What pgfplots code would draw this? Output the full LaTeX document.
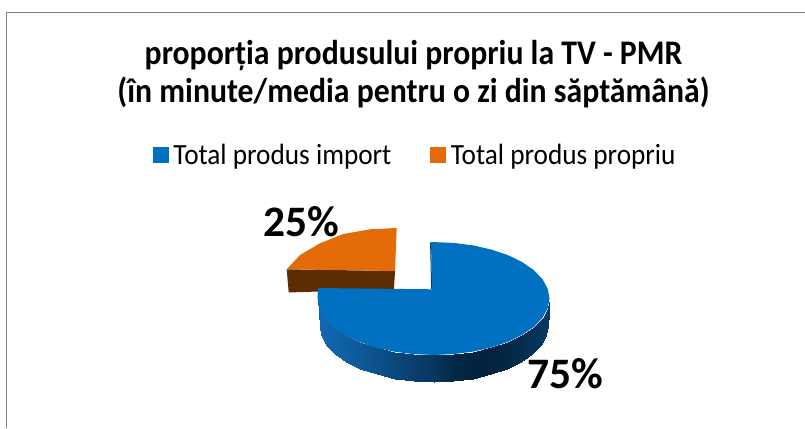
\documentclass[border=0pt]{standalone}
\usepackage{pgfplots}
\pgfplotsset{compat=1.18}
\usepackage{fontspec}
\setmainfont{Carlito}
\newfontfamily\titlefont[FakeStretch=0.92]{Carlito}
\newfontfamily\legendfont[FakeStretch=0.93]{Carlito}
\definecolor{blueT}{HTML}{0070C0}
\definecolor{orangeT}{HTML}{E36C09}
\definecolor{brownS}{HTML}{5A2D03}
\definecolor{frameC}{HTML}{808080}
\definecolor{blueEdge}{HTML}{053A66}
\pgfplotsset{colormap={side}{rgb255(0)=(16,104,176) rgb255(1)=(4,34,61)}}
\begin{document}
\begin{tikzpicture}
\useasboundingbox (0,0) rectangle (805pt,428pt);
\begin{axis}[
  at={(0,0)}, anchor=south west,
  scale only axis, width=805pt, height=428pt,
  xmin=0, xmax=805, ymin=0, ymax=428, y dir=reverse,
  axis lines=none, ticks=none, clip=false,
  colormap name=side,
  point meta min=0, point meta max=1,
  title={proporția produsului propriu la TV - PMR\\(în minute/media pentru o zi din săptămână)},
  title style={at={(axis cs:413.5,80)}, anchor=center, align=center,
    font=\fontsize{34.5}{38}\titlefont\bfseries},
  legend columns=2,
  legend style={at={(axis cs:153,155)}, anchor=west, draw=none, fill=none,
    font=\fontsize{29.3}{30}\legendfont, inner sep=0pt, outer sep=0pt,
    /tikz/every even column/.append style={column sep=37pt},
    /tikz/every odd column/.append style={column sep=3pt}},
  legend cell align=left,
  legend image code/.code={\fill[#1] (0pt,-7.5pt) rectangle (15pt,7.5pt);},
]
\addlegendimage{blueT}\addlegendentry{Total produs import}
\addlegendimage{orangeT}\addlegendentry{Total produs propriu}
% frame
\addplot[frameC, line width=1.2pt, forget plot] coordinates {(6.5,428)(6.5,12.5)(805,12.5)};
% orange slice: side
\addplot[draw=none, fill=brownS, forget plot] coordinates {(286.7,269.3)(395,271)(394,289)(288.7,292.5)} -- cycle;
% orange slice: top
\addplot[draw=none, fill=orangeT, forget plot] coordinates {(396.7,228)(370,229.3)(343.3,234)(320,243.3)(300,255)(286.7,269.3)(395,271)} -- cycle;
% blue slice: side
\addplot[patch, patch type=rectangle, shader=interp, point meta=explicit, forget plot] coordinates {
(549.5,298.5)[.65] (547.7,308.3)[.68] (545.8,335.3)[.68] (547.5,325.5)[.65]
(547.7,308.3)[.68] (542.5,317.8)[.72] (540.7,344.8)[.72] (545.8,335.3)[.68]
(542.5,317.8)[.72] (534.0,326.8)[.78] (532.2,353.8)[.78] (540.7,344.8)[.72]
(534.0,326.8)[.78] (522.4,334.8)[.85] (520.8,361.8)[.85] (532.2,353.8)[.78]
(522.4,334.8)[.85] (508.1,341.8)[.92] (506.8,368.8)[.92] (520.8,361.8)[.85]
(508.1,341.8)[.92] (491.5,347.4)[.98] (490.5,374.4)[.98] (506.8,368.8)[.92]
(491.5,347.4)[.98] (473.2,351.6)[1] (472.5,378.6)[1] (490.5,374.4)[.98]
(473.2,351.6)[1] (453.7,354.1)[.9] (453.3,381.1)[.9] (472.5,378.6)[1]
(453.7,354.1)[.9] (433.5,355)[.72] (433.5,382)[.72] (453.3,381.1)[.9]
(433.5,355)[.72] (413.3,354.1)[.58] (413.7,381.1)[.58] (433.5,382)[.72]
(413.3,354.1)[.58] (393.8,351.6)[.45] (394.5,378.6)[.45] (413.7,381.1)[.58]
(393.8,351.6)[.45] (375.5,347.4)[.33] (376.5,374.4)[.33] (394.5,378.6)[.45]
(375.5,347.4)[.33] (358.9,341.8)[.22] (360.2,368.8)[.22] (376.5,374.4)[.33]
(358.9,341.8)[.22] (344.6,334.8)[.12] (346.2,361.8)[.12] (360.2,368.8)[.22]
(344.6,334.8)[.12] (333.0,326.8)[.06] (334.8,353.8)[.06] (346.2,361.8)[.12]
(333.0,326.8)[.06] (324.5,317.8)[.02] (326.3,344.8)[.02] (334.8,353.8)[.06]
(324.5,317.8)[.02] (319.3,308.3)[0] (321.2,335.3)[0] (326.3,344.8)[.02]
(319.3,308.3)[0] (317.5,298.5)[0] (319.5,325.5)[0] (321.2,335.3)[0]
};
% blue slice: inner edge
\addplot[color=blueEdge, line width=1pt, forget plot] coordinates {(430.6,242.5)(431.6,289)};
% blue slice: top
\addplot[draw=none, fill=blueT, forget plot] coordinates {
(431,242)(453.7,242.9)(473.2,245.4)(491.5,249.6)(508.1,255.2)(522.4,262.2)(534.0,270.3)(542.5,279.2)(547.7,288.7)(549.5,298.5)
(547.7,308.3)(542.5,317.8)(534.0,326.8)(522.4,334.8)(508.1,341.8)(491.5,347.4)(473.2,351.6)(453.7,354.1)(433.5,355)
(413.3,354.1)(393.8,351.6)(375.5,347.4)(358.9,341.8)(344.6,334.8)(333.0,326.8)(324.5,317.8)(319.3,308.3)(317.5,298.5)(318,288)(432,289.3)} -- cycle;
% data labels
\node[font=\fontsize{43.5}{48}\selectfont\bfseries] at (axis cs:301,221.5) {25\%};
\node[font=\fontsize{43.5}{48}\selectfont\bfseries] at (axis cs:565.5,374) {75\%};
\end{axis}
\end{tikzpicture}
\end{document}
